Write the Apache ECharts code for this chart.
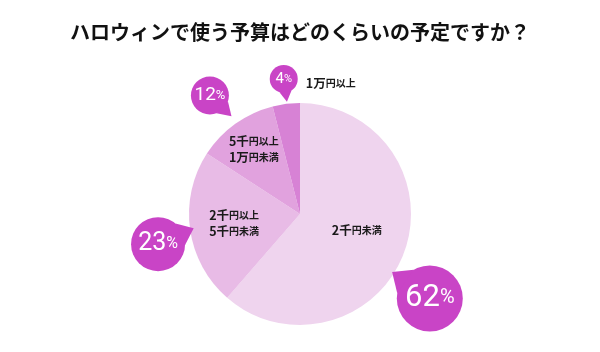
<!DOCTYPE html>
<html>
<head>
<meta charset="utf-8">
<script src="https://cdn.jsdelivr.net/npm/echarts@6/dist/echarts.min.js"></script>
<style>
  html, body { margin: 0; padding: 0; background: #fff; }
  #chart { width: 600px; height: 352px; }
</style>
</head>
<body>
<div id="chart"></div>
<script>
const title = 'ハロウィンで使う予算はどのくらいの予定ですか？'
const categories = ['2千円未満', '2千円以上5千円未満', '5千円以上1万円未満', '1万円以上']
const shares = [62, 23, 12, 4]

// look of each slice / callout
const sliceColors = ['#efd4ee', '#e8bbe6', '#e1a2de', '#d782d5']
const bubbleColor = '#c944c6'
const nameOffsets = [[2, -4], [-8, 1], [-12, -17], [38, -73]]
const bubbleOffsets = [[75, 64], [-84, 22], [-56, -71], [-9, -77]]
const bubbles = [
  { r: 33, tail: 13, angle: 215, num: 31, pct: 20 },
  { r: 27, tail: 12, angle: -24, num: 25, pct: 16 },
  { r: 19, tail: 11, angle: 44, num: 19, pct: 13 },
  { r: 14, tail: 9, angle: 82, num: 15, pct: 11 },
]

function bubbleSvg(b) {
  const s = 2 * (b.r + b.tail + 2)
  const c = s / 2
  const a = (b.angle * Math.PI) / 180
  const w = 0.45
  const pt = (rad, ang) => [c + rad * Math.cos(ang), c + rad * Math.sin(ang)].map((v) => v.toFixed(2))
  const p1 = pt(b.r, a - w)
  const p2 = pt(b.r, a + w)
  const tip = pt(b.r + b.tail, a)
  const svg =
    `<svg xmlns="http://www.w3.org/2000/svg" width="${s}" height="${s}">` +
    `<circle cx="${c}" cy="${c}" r="${b.r}" fill="${bubbleColor}"/>` +
    `<polygon points="${p1.join(',')} ${tip.join(',')} ${p2.join(',')}" fill="${bubbleColor}"/>` +
    `</svg>`
  return { size: s, url: 'data:image/svg+xml;charset=utf-8,' + encodeURIComponent(svg) }
}

function loadImage(url) {
  return new Promise((resolve) => {
    const img = new Image()
    img.onload = () => resolve(img)
    img.onerror = () => resolve(img)
    img.src = url
  })
}

function nameText(name) {
  const lines = name.replace('以上', '以上\n').trim().split('\n')
  return lines.map((l) => `{b|${l.slice(0, 2)}}{s|${l.slice(2)}}`).join('\n')
}

const chart = echarts.init(document.getElementById('chart'))

async function draw() {
  const svgs = bubbles.map(bubbleSvg)
  const images = await Promise.all(svgs.map((s) => loadImage(s.url)))

  const nameData = categories.map((name, i) => ({
    name,
    value: shares[i],
    itemStyle: { color: sliceColors[i] },
    label: { offset: nameOffsets[i] },
  }))

  const bubbleData = categories.map((name, i) => {
    const b = bubbles[i]
    const size = svgs[i].size
    return {
      name,
      value: shares[i],
      label: {
        offset: bubbleOffsets[i],
        width: size,
        height: size,
        backgroundColor: { image: images[i] },
        formatter: '{n|{c}}{p|%}',
        rich: {
          n: { fontSize: b.num, color: '#fff', lineHeight: size, fontFamily: 'Roboto, sans-serif' },
          p: { fontSize: b.pct, color: '#fff', lineHeight: size, fontFamily: 'Roboto, sans-serif' },
        },
      },
    }
  })

  chart.setOption({
    backgroundColor: '#fff',
    animation: false,
    title: {
      text: title,
      left: 'center',
      top: 17,
      textStyle: {
        fontFamily: '"Noto Sans CJK JP", sans-serif',
        fontSize: 20,
        fontWeight: 'bold',
        color: '#111',
      },
    },
    series: [
      {
        type: 'pie',
        center: [300, 214],
        radius: 111,
        startAngle: 90,
        silent: true,
        avoidLabelOverlap: false,
        labelLayout: { hideOverlap: false },
        label: {
          position: 'inside',
          formatter: (p) => nameText(p.name),
          color: '#1a1a1a',
          lineHeight: 16,
          rich: {
            b: {
              fontFamily: '"Noto Sans CJK JP", sans-serif',
              fontSize: 12.5,
              fontWeight: 'bold',
              color: '#1a1a1a',
              lineHeight: 16,
            },
            s: {
              fontFamily: '"Noto Sans CJK JP", sans-serif',
              fontSize: 10,
              fontWeight: 'bold',
              color: '#1a1a1a',
              lineHeight: 16,
            },
          },
        },
        labelLine: { show: false },
        data: nameData,
      },
      {
        type: 'pie',
        center: [300, 214],
        radius: 111,
        startAngle: 90,
        silent: true,
        avoidLabelOverlap: false,
        labelLayout: { hideOverlap: false },
        z: 3,
        itemStyle: { color: 'rgba(0,0,0,0)' },
        label: { position: 'inside', align: 'center' },
        labelLine: { show: false },
        data: bubbleData,
      },
    ],
  })
}

draw()
</script>
</body>
</html>
